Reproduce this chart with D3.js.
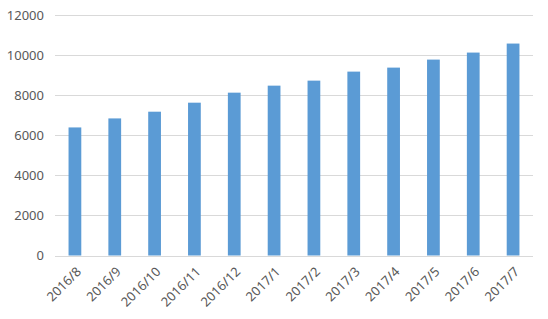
<!DOCTYPE html>
<html>
<head>
<meta charset="utf-8">
<script src="https://cdn.jsdelivr.net/npm/d3@7"></script>
<style>
  body { margin: 0; background: #fff; }
  text { font-family: "Microsoft YaHei", "Noto Sans", "DejaVu Sans", sans-serif; }
</style>
</head>
<body>
<svg id="chart" width="548" height="319"></svg>
<script>
const months = ['2016/8', '2016/9', '2016/10', '2016/11', '2016/12', '2017/1',
  '2017/2', '2017/3', '2017/4', '2017/5', '2017/6', '2017/7'];
const values = [6390, 6840, 7175, 7625, 8125, 8475, 8725, 9175, 9375, 9775, 10125, 10575];
const yTicks = [0, 2000, 4000, 6000, 8000, 10000, 12000];

const margin = { top: 15, right: 15, bottom: 63.5, left: 55 };
const width = 548, height = 319;

const svg = d3.select('#chart');

const x = d3.scaleBand(months, [margin.left, width - margin.right])
  .paddingInner(0.68)
  .paddingOuter(0.34);
const y = d3.scaleLinear([0, 12000], [height - margin.bottom, margin.top]);

// gridlines
svg.append('g')
  .selectAll('line')
  .data(yTicks)
  .join('line')
    .attr('x1', margin.left)
    .attr('x2', width - margin.right)
    .attr('y1', d => Math.round(y(d)) + 0.5)
    .attr('y2', d => Math.round(y(d)) + 0.5)
    .attr('stroke', '#d9d9d9')
    .attr('stroke-width', 1);

// y axis labels
svg.append('g')
  .attr('transform', `translate(${margin.left - 11},0)`)
  .call(d3.axisLeft(y).tickValues(yTicks).tickFormat(d3.format('d')).tickSize(0).tickPadding(0))
  .call(g => g.select('.domain').remove())
  .call(g => g.selectAll('text')
    .attr('font-size', 13)
    .attr('fill', '#595959'));

// bars
svg.append('g')
  .selectAll('rect')
  .data(values)
  .join('rect')
    .attr('x', (d, i) => x(months[i]))
    .attr('width', x.bandwidth())
    .attr('y', d => y(d))
    .attr('height', d => y(0) - y(d))
    .attr('fill', '#5b9bd5');

// x axis labels
svg.append('g')
  .attr('transform', `translate(0,${y(0)})`)
  .call(d3.axisBottom(x).tickSize(0).tickPadding(0))
  .call(g => g.select('.domain').remove())
  .call(g => g.selectAll('text')
    .attr('font-size', 13)
    .attr('fill', '#595959')
    .attr('text-anchor', 'end')
    .attr('dy', null)
    .attr('transform', 'translate(7,17) rotate(-45)'));
</script>
</body>
</html>
